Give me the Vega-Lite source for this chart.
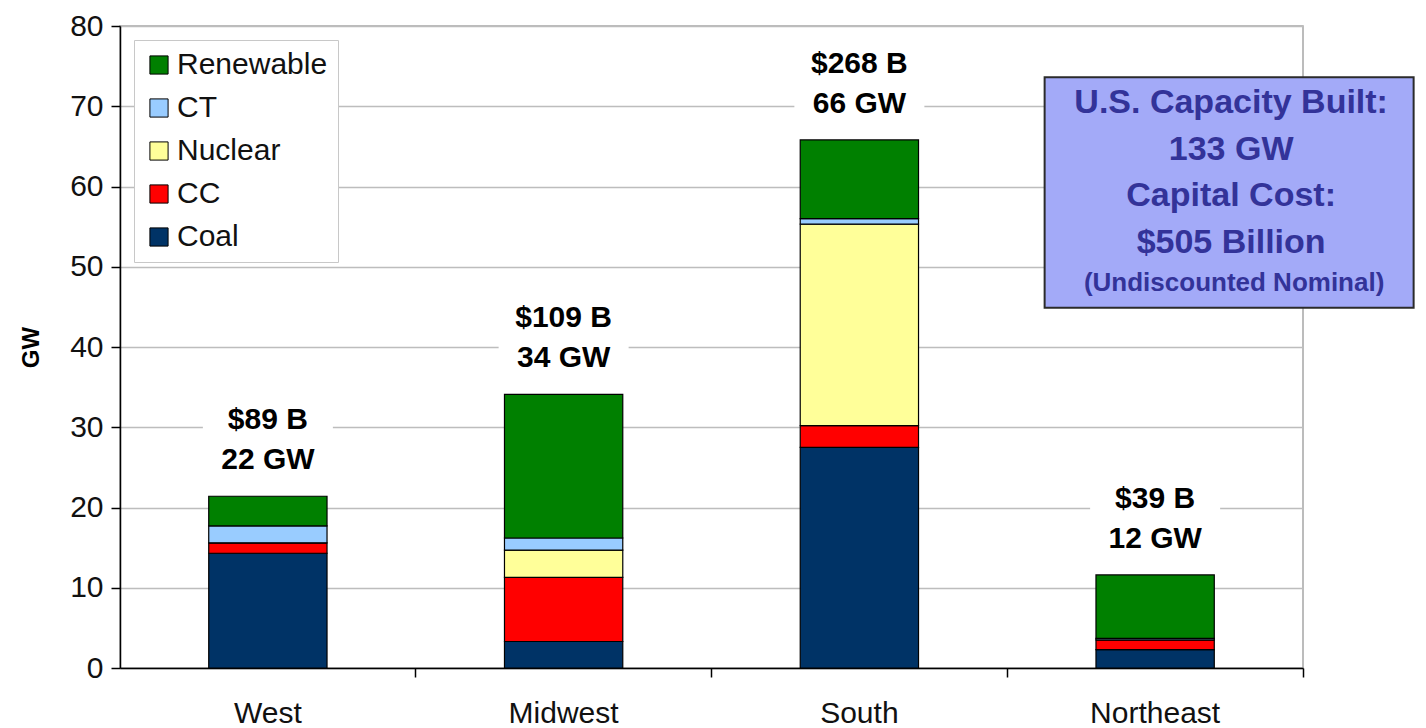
{
  "$schema": "https://vega.github.io/schema/vega-lite/v6.json",
  "width": 1183,
  "height": 642,
  "autosize": {"type": "none"},
  "padding": {"left": 120, "top": 26, "right": 123, "bottom": 60},
  "background": "white",
  "config": {
    "view": {"stroke": "#a6a6a6", "strokeWidth": 1.5},
    "font": "Liberation Sans"
  },
  "datasets": {
    "stack": [
      {"region": "West", "type": "Coal", "gw": 14.3},
      {"region": "West", "type": "CC", "gw": 1.3},
      {"region": "West", "type": "Nuclear", "gw": 0},
      {"region": "West", "type": "CT", "gw": 2.1},
      {"region": "West", "type": "Renewable", "gw": 3.7},
      {"region": "Midwest", "type": "Coal", "gw": 3.3},
      {"region": "Midwest", "type": "CC", "gw": 8.0},
      {"region": "Midwest", "type": "Nuclear", "gw": 3.4},
      {"region": "Midwest", "type": "CT", "gw": 1.5},
      {"region": "Midwest", "type": "Renewable", "gw": 17.9},
      {"region": "South", "type": "Coal", "gw": 27.5},
      {"region": "South", "type": "CC", "gw": 2.7},
      {"region": "South", "type": "Nuclear", "gw": 25.1},
      {"region": "South", "type": "CT", "gw": 0.7},
      {"region": "South", "type": "Renewable", "gw": 9.8},
      {"region": "Northeast", "type": "Coal", "gw": 2.3},
      {"region": "Northeast", "type": "CC", "gw": 1.2},
      {"region": "Northeast", "type": "Nuclear", "gw": 0},
      {"region": "Northeast", "type": "CT", "gw": 0.2},
      {"region": "Northeast", "type": "Renewable", "gw": 7.9}
    ],
    "labels": [
      {"region": "West", "total": 21.4, "cost": "$89 B", "gwText": "22 GW"},
      {"region": "Midwest", "total": 34.1, "cost": "$109 B", "gwText": "34 GW"},
      {"region": "South", "total": 65.8, "cost": "$268 B", "gwText": "66 GW"},
      {"region": "Northeast", "total": 11.6, "cost": "$39 B", "gwText": "12 GW"}
    ],
    "note": [
      {"main": "U.S. Capacity Built:\n133 GW\nCapital Cost:\n$505 Billion", "sub": "(Undiscounted Nominal)"}
    ]
  },
  "encoding": {
    "x": {
      "field": "region",
      "type": "nominal",
      "sort": ["West", "Midwest", "South", "Northeast"],
      "scale": {"domain": ["West", "Midwest", "South", "Northeast"], "paddingInner": 0.6, "paddingOuter": 0.3},
      "axis": {
        "title": null,
        "labelAngle": 0,
        "labelFontSize": 30,
        "labelColor": "#111",
        "labelPadding": 21,
        "bandPosition": 1.75,
        "tickSize": 9,
        "tickColor": "black",
        "tickWidth": 1.5,
        "domainColor": "black",
        "domainWidth": 1.5,
        "grid": false
      }
    }
  },
  "layer": [
    {
      "data": {"name": "stack"},
      "transform": [
        {"calculate": "indexof(['Coal','CC','Nuclear','CT','Renewable'], datum.type)", "as": "ord"}
      ],
      "mark": {"type": "bar", "stroke": "black", "strokeWidth": 1.2},
      "encoding": {
        "y": {
          "field": "gw",
          "type": "quantitative",
          "stack": "zero",
          "scale": {"domain": [0, 80], "nice": false},
          "axis": {
            "title": "GW",
            "titleFontSize": 24,
            "titleFontWeight": "bold",
            "titleColor": "black",
            "titlePadding": 26,
            "values": [0, 10, 20, 30, 40, 50, 60, 70, 80],
            "labelFontSize": 30,
            "labelColor": "#111",
            "labelPadding": 8,
            "tickSize": 9,
            "tickColor": "black",
            "tickWidth": 1.5,
            "domainColor": "black",
            "domainWidth": 1.5,
            "grid": true,
            "gridColor": "#bdbdbd",
            "gridWidth": 1.5
          }
        },
        "color": {
          "field": "type",
          "type": "nominal",
          "scale": {
            "domain": ["Renewable", "CT", "Nuclear", "CC", "Coal"],
            "range": ["#008000", "#99CCFF", "#FFFF99", "#FF0000", "#003366"]
          },
          "legend": {
            "title": null,
            "orient": "top-left",
            "offset": 14,
            "padding": 10,
            "fillColor": "white",
            "strokeColor": "#c8c8c8",
            "symbolType": "square",
            "symbolSize": 330,
            "symbolStrokeColor": "black",
            "symbolStrokeWidth": 1,
            "symbolOpacity": 1,
            "labelFontSize": 30,
            "labelColor": "#111",
            "labelOffset": 3,
            "rowPadding": 13
          }
        },
        "order": {"field": "ord", "type": "quantitative"}
      }
    },
    {
      "data": {"name": "labels"},
      "mark": {"type": "tick", "color": "white", "opacity": 1, "thickness": 84, "size": 130, "yOffset": -56},
      "encoding": {
        "y": {"field": "total", "type": "quantitative"}
      }
    },
    {
      "data": {"name": "labels"},
      "mark": {"type": "text", "fontSize": 30, "fontWeight": "bold", "color": "black", "dy": -76, "baseline": "middle"},
      "encoding": {
        "y": {"field": "total", "type": "quantitative"},
        "text": {"field": "cost"}
      }
    },
    {
      "data": {"name": "labels"},
      "mark": {"type": "text", "fontSize": 30, "fontWeight": "bold", "color": "black", "dy": -36, "baseline": "middle"},
      "encoding": {
        "y": {"field": "total", "type": "quantitative"},
        "text": {"field": "gwText"}
      }
    },
    {
      "data": {"name": "note"},
      "mark": {"type": "rect", "fill": "#A3AAF8", "stroke": "#2b2b2b", "strokeWidth": 2, "width": 369, "xOffset": 74, "clip": false},
      "encoding": {
        "x": {"datum": "Northeast"},
        "y": {"datum": 73.6},
        "y2": {"datum": 44.9}
      }
    },
    {
      "data": {"name": "note"},
      "mark": {"type": "text", "fontSize": 34, "fontWeight": "bold", "color": "#333399", "lineBreak": "\n", "lineHeight": 46.5, "baseline": "middle", "xOffset": 76},
      "encoding": {
        "x": {"datum": "Northeast"},
        "y": {"datum": 70.4},
        "text": {"field": "main"}
      }
    },
    {
      "data": {"name": "note"},
      "mark": {"type": "text", "fontSize": 26, "fontWeight": "bold", "color": "#333399", "baseline": "middle", "xOffset": 79},
      "encoding": {
        "x": {"datum": "Northeast"},
        "y": {"datum": 48.0},
        "text": {"field": "sub"}
      }
    }
  ]
}
